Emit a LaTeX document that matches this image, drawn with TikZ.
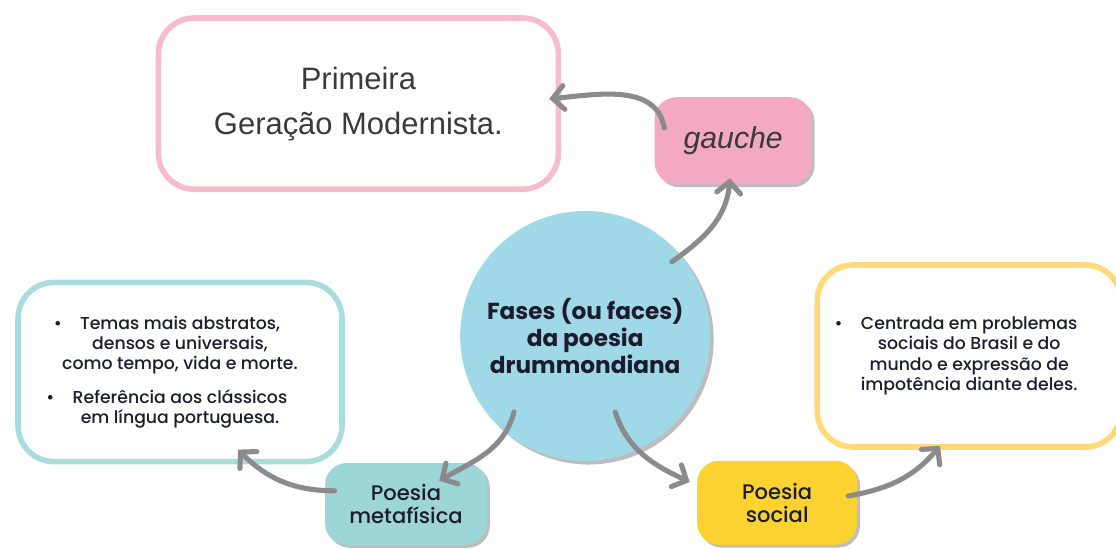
\documentclass[tikz,border=0pt]{standalone}
\usepackage{fontspec}
\setmainfont{Poppins}
\newfontfamily\poppinsmed{Poppins}[UprightFont={* Medium}]
\newfontfamily\grotesk{Liberation Sans}
\usetikzlibrary{arrows.meta,positioning,shadows}
\definecolor{pinkline}{HTML}{F5BCCD}
\definecolor{gauchepink}{HTML}{F3A8C3}
\definecolor{circleblue}{HTML}{9FD8E6}
\definecolor{tealline}{HTML}{A9DCDC}
\definecolor{metateal}{HTML}{9DD6D6}
\definecolor{yellowline}{HTML}{FDD978}
\definecolor{socialyellow}{HTML}{FCD230}
\definecolor{arrowgray}{HTML}{8B8B8E}
\definecolor{shadowgray}{HTML}{BDBDBD}
\definecolor{inkdark}{HTML}{1C1C2E}
\definecolor{textgray}{HTML}{3A3A3A}

\begin{document}
\begin{tikzpicture}[
  outline/.style={draw, line width=4pt, rounded corners=0.9cm, align=center, text=inkdark, inner sep=0pt},
  filled/.style={rounded corners=0.55cm, align=center, text=inkdark, inner sep=0pt, drop shadow={shadow xshift=2pt, shadow yshift=-2pt, fill=shadowgray, opacity=1}},
  link/.style={draw=arrowgray, line width=3.6pt, line cap=round, -{Straight Barb[length=8pt, width=17pt, line cap=round]}}
]
\useasboundingbox (0,0) rectangle (27.9,13.7);

% centre
\node[circle, fill=circleblue, minimum size=6.25cm, align=center, text=inkdark, drop shadow={shadow xshift=2.5pt, shadow yshift=-2.5pt, fill=shadowgray, opacity=1}, font=\bfseries\fontsize{16.5}{19.5}\selectfont] (fases) at (14.63,5.30) {Fases (ou faces)\\da poesia\\drummondiana};

% gauche
\node[outline, draw=pinkline, minimum width=10cm, minimum height=4.28cm, text=textgray, font=\grotesk\fontsize{22}{32}\selectfont] (primeira) at (8.96,11.11) {Primeira\\Geração Modernista.};
\node[filled, fill=gauchepink, minimum width=3.93cm, minimum height=2.18cm, text=textgray, font=\grotesk\itshape\fontsize{21.5}{24}\selectfont] (gauche) at (18.33,10.18) {gauche};

% metafisica
\node[outline, draw=tealline, minimum width=8.1cm, minimum height=4.48cm, font=\poppinsmed\fontsize{12.3}{14.5}\selectfont] (abstratos) at (4.5,4.4) {%
  \makebox[0pt][r]{\textbullet\hspace{13pt}}Temas mais abstratos,\\
  densos e universais,\\
  como tempo, vida e morte.\\[9pt]
  \makebox[0pt][r]{\textbullet\hspace{13pt}}Referência aos clássicos\\
  em língua portuguesa.};
\node[filled, fill=metateal, minimum width=4.05cm, minimum height=2.05cm, font=\poppinsmed\fontsize{15}{16.5}\selectfont] (metafisica) at (10.15,1.1) {Poesia\\metafísica};

% social
\node[outline, draw=yellowline, minimum width=7.6cm, minimum height=4.55cm, font=\poppinsmed\fontsize{12.3}{14.5}\selectfont] (problemas) at (24.23,4.8) {%
  \makebox[0pt][r]{\textbullet\hspace{13pt}}Centrada em problemas\\
  sociais do Brasil e do\\
  mundo e expressão de\\
  impotência diante deles.};
\node[filled, fill=socialyellow, minimum width=4.0cm, minimum height=2.1cm, font=\poppinsmed\fontsize{15}{16.5}\selectfont] (social) at (19.43,1.13) {Poesia\\social};

% arrows
\draw[link] ([shift={(0.25,0.32)}]gauche.west) to[out=100, in=5] ([shift={(-0.3,0.12)}]primeira.east);
\draw[link] ([shift={(-0.2,-0.2)}]fases.41) to[out=35, in=-95] ([shift={(-0.08,0.16)}]gauche.south);
\draw[link] ([shift={(-1.78,-1.9)}]fases.center) to[out=-105, in=30] ([shift={(0.83,0.58)}]metafisica.center);
\draw[link] ([shift={(0.75,-1.9)}]fases.center) to[out=-72, in=155] ([shift={(-0.18,0.52)}]social.west);
\draw[link] ([shift={(0.25,0.33)}]metafisica.west) to[out=180, in=-45] ([shift={(1.45,0.37)}]abstratos.south);
\draw[link] ([shift={(-0.23,0.17)}]social.east) to[out=10, in=230] ([shift={(-0.73,0.1)}]problemas.south);

\end{tikzpicture}
\end{document}
